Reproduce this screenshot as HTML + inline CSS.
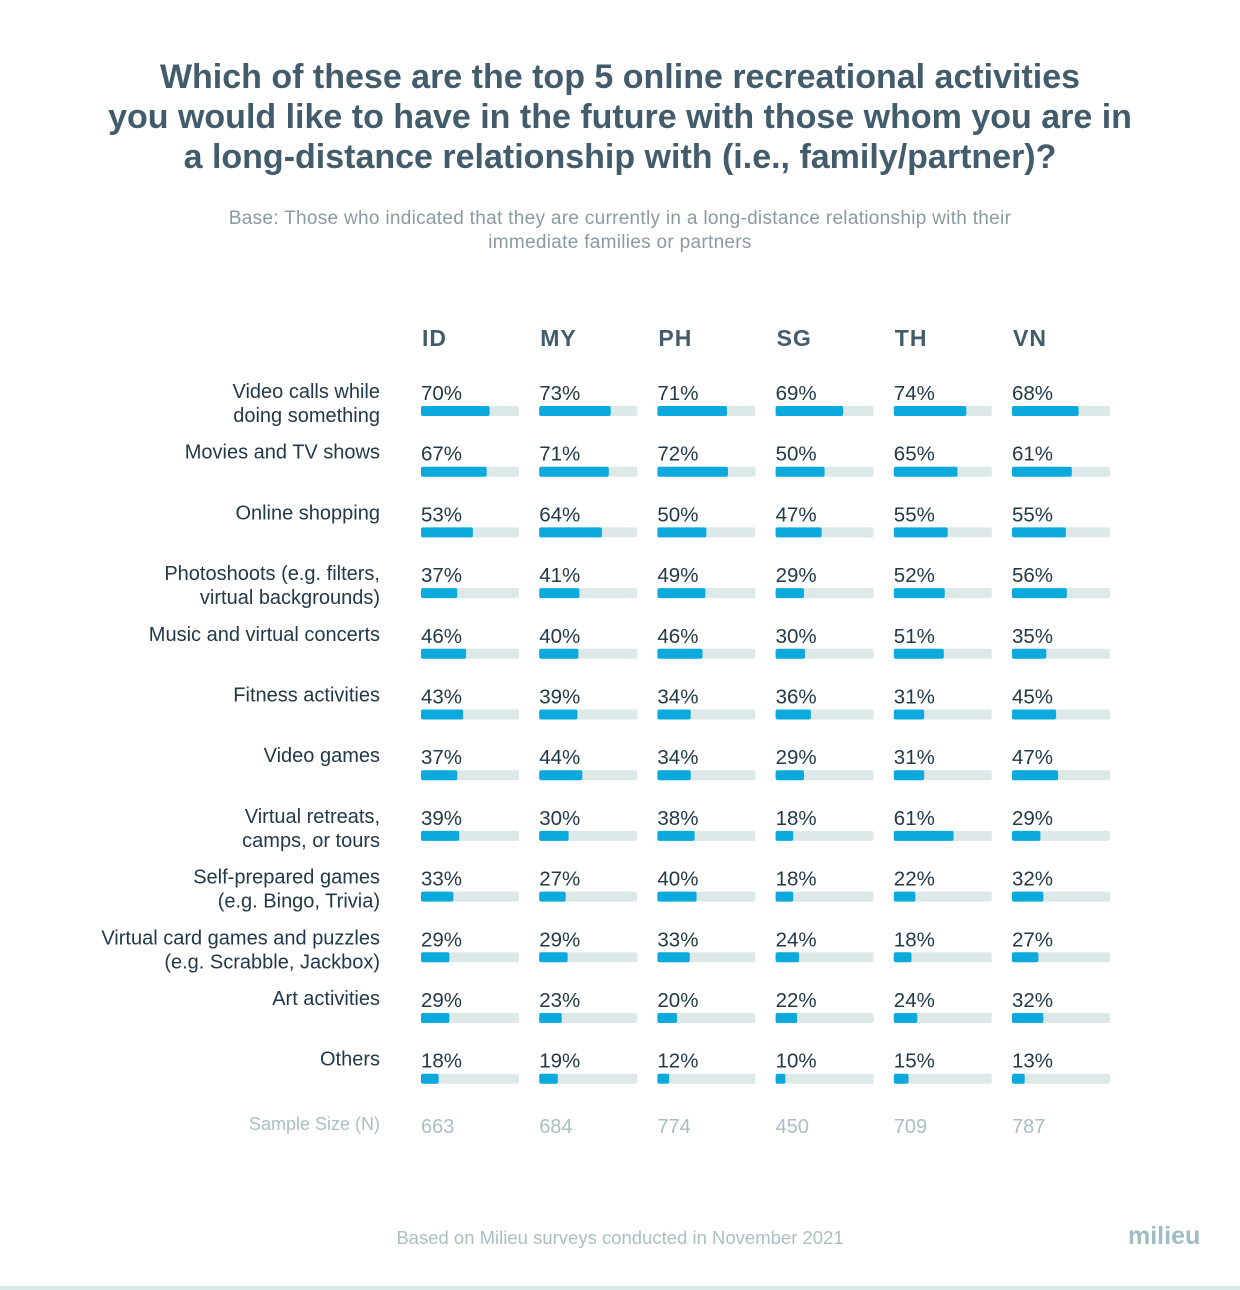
<!DOCTYPE html>
<html><head><meta charset="utf-8"><style>
body{margin:0;width:1240px;height:1290px;background:#fff;font-family:"Liberation Sans",sans-serif;position:relative;overflow:hidden}
.t{position:absolute;white-space:nowrap}
#title{left:0;width:1240px;top:57px;text-align:center;font-size:34px;font-weight:bold;color:#435c6b;line-height:40px}
#sub{left:0;width:1240px;top:207px;text-align:center;font-size:19px;letter-spacing:0.3px;color:#8a9aa3;line-height:24px}
</style></head><body>
<div id="title" class="t">Which of these are the top 5 online recreational activities<br>you would like to have in the future with those whom you are in<br>a long-distance relationship with (i.e., family/partner)?</div>
<div id="sub" class="t">Base: Those who indicated that they are currently in a long-distance relationship with their<br>immediate families or partners</div>
<svg id="chart" width="1240" height="1290" style="position:absolute;left:0;top:0"></svg>
<div class="t" style="left:0;width:1240px;top:1227px;text-align:center;font-size:18.5px;color:#a9bfc4">Based on Milieu surveys conducted in November 2021</div>
<div class="t" style="left:1128px;top:1222px;font-size:25px;font-weight:bold;color:#9fbcc2">milieu</div>
<div class="t" style="left:0;top:1286px;width:1240px;height:4px;background:#dbe9e8"></div>
<script>
const countries=["ID","MY","PH","SG","TH","VN"];
const categories=[["Video calls while","doing something"],["Movies and TV shows"],["Online shopping"],["Photoshoots (e.g. filters,","virtual backgrounds)"],["Music and virtual concerts"],["Fitness activities"],["Video games"],["Virtual retreats,","camps, or tours"],["Self-prepared games","(e.g. Bingo, Trivia)"],["Virtual card games and puzzles","(e.g. Scrabble, Jackbox)"],["Art activities"],["Others"]];
const valuesID=[70,67,53,37,46,43,37,39,33,29,29,18];
const valuesMY=[73,71,64,41,40,39,44,30,27,29,23,19];
const valuesPH=[71,72,50,49,46,34,34,38,40,33,20,12];
const valuesSG=[69,50,47,29,30,36,29,18,18,24,22,10];
const valuesTH=[74,65,55,52,51,31,31,61,22,18,24,15];
const valuesVN=[68,61,55,56,35,45,47,29,32,27,32,13];
const sampleSizes=[663,684,774,450,709,787];
const series=[valuesID,valuesMY,valuesPH,valuesSG,valuesTH,valuesVN];
const colX=i=>421+i*118.2;
const rowY=j=>406+j*60.7;
const barW=v=>v/100*98;
const svg=document.getElementById('chart');
const NS="http://www.w3.org/2000/svg";
function mk(tag,a){const e=document.createElementNS(NS,tag);for(const k in a)e.setAttribute(k,a[k]);svg.appendChild(e);return e;}
countries.forEach((c,i)=>{
  const t=mk('text',{x:colX(i)+1,y:346,'font-size':23,'font-weight':'bold',fill:'#435c6b','font-family':'Liberation Sans','letter-spacing':1});
  t.textContent=c;
  
  
  const n=mk('text',{x:colX(i),y:1133,'font-size':20,fill:'#a9bfc4','font-family':'Liberation Sans'});
  n.textContent=sampleSizes[i];
  
  
  series[i].forEach((v,j)=>{
    const y=rowY(j);
    const tr=mk('rect',{x:colX(i),y:y,width:98,height:10,rx:2,fill:'#dde8e8'});
    
    
    const b=mk('rect',{x:colX(i),y:y,width:barW(v),height:10,rx:2,fill:'#0ba9dc'});
    
    
    const p=mk('text',{x:colX(i),y:y-6,'font-size':20.5,fill:'#22394a','font-family':'Liberation Sans'});
    p.textContent=v+'%';
    
    
  });
});
categories.forEach((lines,j)=>{
  const y=rowY(j);
  lines.forEach((l,k)=>{
    const t=mk('text',{x:380,y:y-8+k*24,'font-size':20,fill:'#22394a','text-anchor':'end','font-family':'Liberation Sans'});
    t.textContent=l;
    
    
  });
});
const sl=mk('text',{x:380,y:1130,'font-size':18,fill:'#a9bfc4','text-anchor':'end','font-family':'Liberation Sans'});
sl.textContent='Sample Size (N)';


</script>
</body></html>
